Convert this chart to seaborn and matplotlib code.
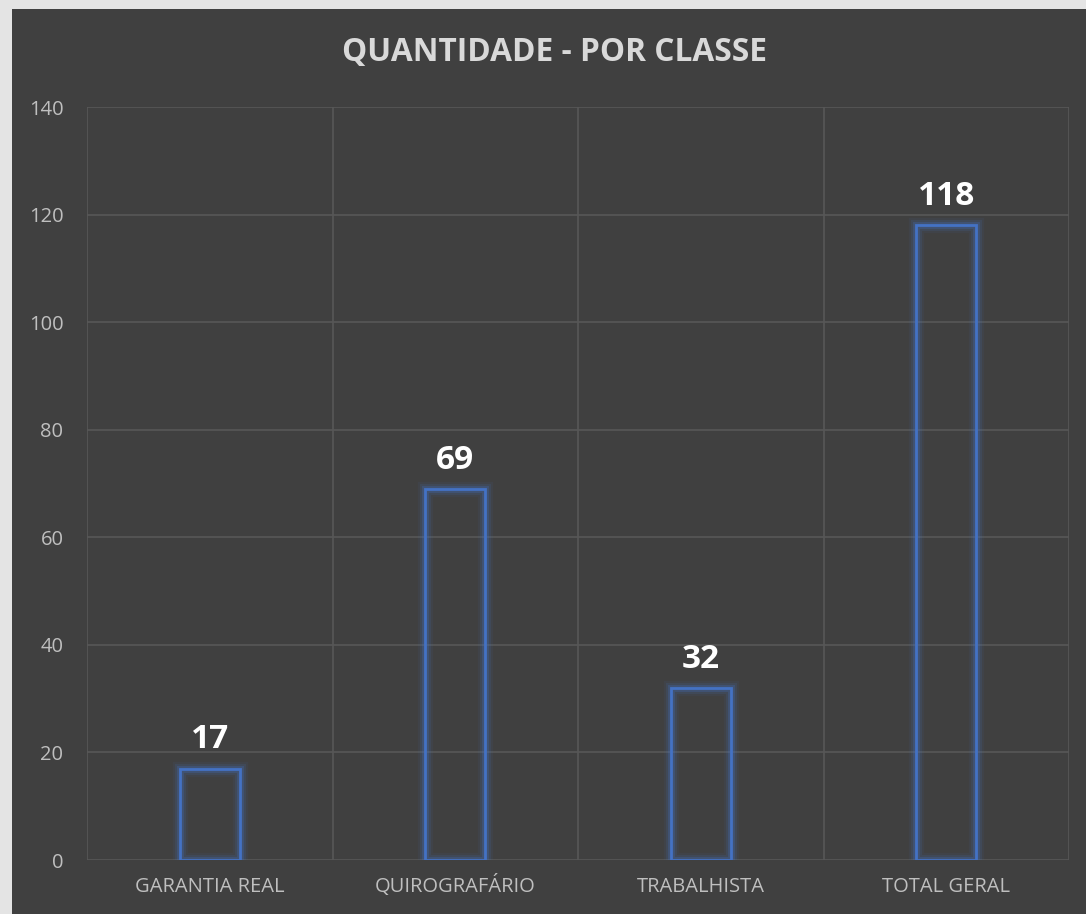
import matplotlib.pyplot as plt
import matplotlib.patheffects as pe
import pandas as pd
import seaborn as sns
from matplotlib.patches import Rectangle

categories = ['GARANTIA REAL', 'QUIROGRAFÁRIO', 'TRABALHISTA', 'TOTAL GERAL']
values = [17, 69, 32, 118]
yticks = [0, 20, 40, 60, 80, 100, 120, 140]

bg = '#404040'
blue = '#4472C4'

sns.set_style('dark')
plt.rcParams['font.family'] = ['Open Sans', 'DejaVu Sans']

df = pd.DataFrame({'classe': categories, 'qtd': values})

fig = plt.figure(figsize=(10.86, 9.14), dpi=100)
fig.patch.set_facecolor('#e4e4e4')
fig.patches.append(Rectangle((12 / 1086, 0), 1, 1 - 9 / 914, transform=fig.transFigure,
                             facecolor=bg, edgecolor='none', zorder=-5))

ax = fig.add_axes([87 / 1086, 54 / 914, 982 / 1086, 753 / 914])
ax.set_facecolor(bg)

sns.barplot(data=df, x='classe', y='qtd', ax=ax, width=0.245, fill=False,
            color=blue, linewidth=2, edgecolor=blue, zorder=3)

# soft glow around the bar outlines
for p in ax.patches:
    p.set_edgecolor(blue)
    p.set_path_effects([
        pe.Stroke(linewidth=11, foreground=blue, alpha=0.07),
        pe.Stroke(linewidth=8, foreground=blue, alpha=0.13),
        pe.Stroke(linewidth=5, foreground=blue, alpha=0.25),
        pe.Normal(),
    ])

for i, v in enumerate(values):
    ax.text(i, v + 2.3, str(v), ha='center', va='bottom', color='white',
            fontsize=24, fontweight='bold', zorder=5)

ax.set_ylim(0, 140)
ax.set_xlim(-0.5, 3.5)
ax.set_yticks(yticks)
ax.set_xticks(range(4))
ax.set_xticks([-0.5, 0.5, 1.5, 2.5, 3.5], minor=True)
ax.grid(False)
ax.grid(True, axis='y', which='major', color='#575757', linewidth=1.2, zorder=1)
ax.grid(True, axis='x', which='minor', color='#575757', linewidth=1.2, zorder=1)
ax.tick_params(axis='both', which='both', length=0, colors='#bfbfbf', labelsize=14.5)
ax.tick_params(axis='y', pad=17)
ax.tick_params(axis='x', pad=23)
for lbl in ax.get_xticklabels():
    lbl.set_verticalalignment('baseline')
ax.set_xlabel('')
ax.set_ylabel('')
for s in ax.spines.values():
    s.set_visible(False)

fig.text(555 / 1086, 1 - 52 / 914, 'QUANTIDADE - POR CLASSE', ha='center', va='center',
         color='#d9d9d9', fontsize=22.8, fontweight='bold')

fig.savefig('out.png', dpi=100, facecolor=fig.get_facecolor())
